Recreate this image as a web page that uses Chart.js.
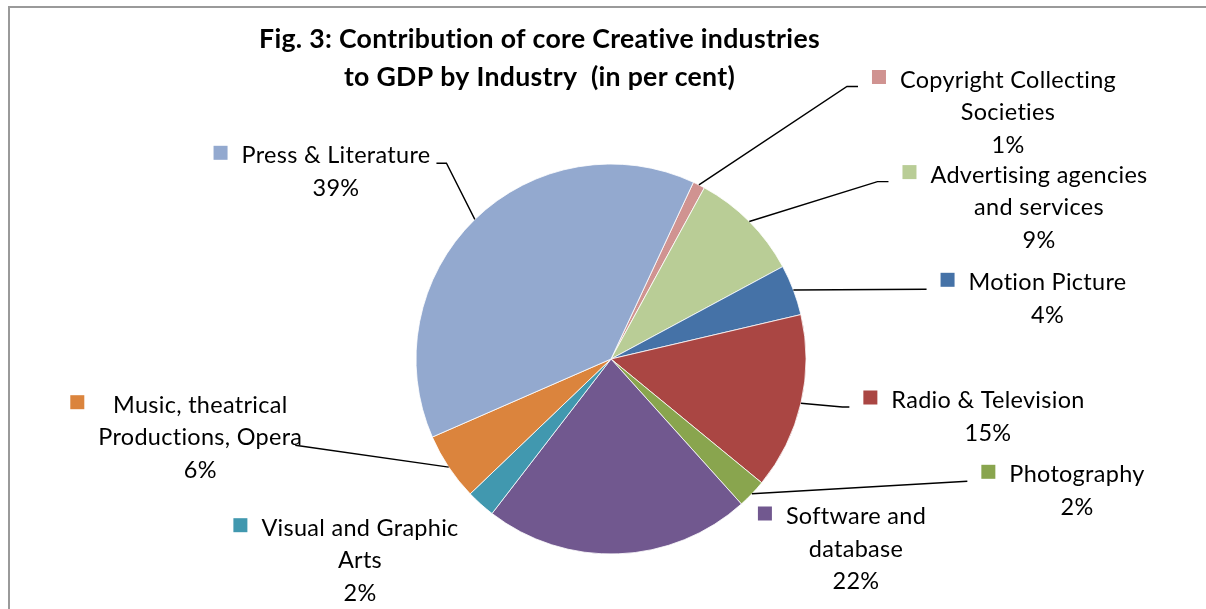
<!DOCTYPE html>
<html><head><meta charset="utf-8">
<script src="https://cdn.jsdelivr.net/npm/chart.js@4.4.1/dist/chart.umd.min.js"></script>
<style>html,body{margin:0;padding:0;background:#fff;}#wrap{width:1206px;height:609px;position:relative;}</style>
</head><body><div id="wrap"><canvas id="c" width="1206" height="609"></canvas></div>
<script>
// ---- data ----
const categories = [
  'Copyright Collecting\nSocieties',
  'Advertising agencies\nand services',
  'Motion Picture',
  'Radio & Television',
  'Photography',
  'Software and\ndatabase',
  'Visual and Graphic\nArts',
  'Music, theatrical\nProductions, Opera',
  'Press & Literature'
];
const shares = [1.0, 9.2, 4.2, 14.6, 2.4, 22.1, 2.4, 5.6, 38.5];
const titleLines = ['Fig. 3: Contribution of core Creative industries', 'to GDP by Industry  (in per cent)'];

// ---- styles / layout ----
const sliceColors = ['#D09391', '#B9CD96', '#4572A7', '#AA4643', '#89A54E', '#71588F', '#4198AF', '#DB843D', '#93A9CF'];
const labelLayout = [
  {cx:1008,  y:87.5,  lead:'key', stub:11},
  {cx:1039,  y:182.6, lead:'key', stub:11},
  {cx:1047.5,y:290.3, lead:'key', stub:0},
  {cx:988,   y:408,   lead:'key', stub:7},
  {cx:1077,  y:482.3, lead:'key', stub:0},
  {cx:856,   y:524,   lead:null},
  {cx:360,   y:535.7, lead:null},
  {cx:200.3, y:412.7, lead:'end', line:1, stub:0, inset:-7},
  {cx:336,   y:163.3, lead:'end', line:0, stub:10, inset:6}
];
const FONT = 'Lato';
const lineH = 32.5;

function setFont(ctx, weight, size) {
  ctx.font = weight + ' ' + size.toFixed(2) + 'px ' + FONT;
  try { ctx.textRendering = 'optimizeSpeed'; } catch (e) {}
  try { ctx.letterSpacing = '0.3px'; } catch (e) {}
}
function fitFont(ctx, weight, text, target) {
  let size = 24;
  for (let k = 0; k < 4; k++) {
    setFont(ctx, weight, size);
    size = size * target / ctx.measureText(text).width;
  }
  setFont(ctx, weight, size);
  return size;
}

const labelPlugin = {
  id: 'labels',
  afterDraw(chart) {
    const ctx = chart.ctx;
    ctx.save();
    // border
    ctx.strokeStyle = '#9a9a9a';
    ctx.lineWidth = 2;
    ctx.beginPath();
    ctx.moveTo(9, 609); ctx.lineTo(9, 7); ctx.lineTo(1206, 7);
    ctx.stroke();

    // title
    fitFont(ctx, 'bold', titleLines[0], 561);
    ctx.fillStyle = '#000';
    ctx.textAlign = 'center';
    ctx.textBaseline = 'alphabetic';
    ctx.fillText(titleLines[0], 539.5, 48.2);
    ctx.fillText(titleLines[1], 539.5, 85.7);

    // body font
    fitFont(ctx, 'normal', 'Copyright Collecting', 216);

    const meta = chart.getDatasetMeta(0);
    const total = shares.reduce((a, b) => a + b, 0);
    meta.data.forEach((arc, i) => {
      const L = labelLayout[i];
      const lines = categories[i].split('\n');
      lines.push(Math.round(shares[i] / total * 100) + '%');
      const widths = lines.map(s => ctx.measureText(s).width);
      const maxW = Math.max(...widths);
      // text
      ctx.fillStyle = '#000';
      ctx.textAlign = 'center';
      lines.forEach((s, k) => ctx.fillText(s, L.cx, L.y + k * lineH));
      // key
      const keyLeft = L.cx - maxW / 2 - 28;
      ctx.fillStyle = sliceColors[i];
      ctx.fillRect(keyLeft, L.y - 17.5, 14, 14);
      // leader
      if (L.lead) {
        const p = arc.getProps(['x', 'y', 'startAngle', 'endAngle', 'outerRadius'], true);
        const mid = (p.startAngle + p.endAngle) / 2;
        const ax = p.x + Math.cos(mid) * p.outerRadius;
        const ay = p.y + Math.sin(mid) * p.outerRadius;
        let sx, sy;
        if (L.lead === 'key') {
          sx = keyLeft - 14; sy = L.y - 1;
        } else {
          sx = L.cx + widths[L.line] / 2 + L.inset; sy = L.y + L.line * lineH;
        }
        const dir = Math.sign(ax - sx);
        ctx.strokeStyle = '#000';
        ctx.lineWidth = 1.4;
        ctx.beginPath();
        ctx.moveTo(sx, sy);
        if (L.stub) ctx.lineTo(sx + dir * L.stub, sy);
        ctx.lineTo(ax, ay);
        ctx.stroke();
      }
    });
    ctx.restore();
  }
};

new Chart(document.getElementById('c'), {
  type: 'pie',
  data: {
    labels: categories,
    datasets: [{
      data: shares,
      backgroundColor: sliceColors,
      borderColor: '#ffffff',
      borderWidth: 0.8,
      hoverOffset: 0,
      radius: 195
    }]
  },
  options: {
    responsive: false,
    devicePixelRatio: 1,
    animation: false,
    events: [],
    rotation: 25,
    layout: {padding: {left: 416, top: 164, right: 400, bottom: 55}},
    plugins: {legend: {display: false}, tooltip: {enabled: false}, title: {display: false}}
  },
  plugins: [labelPlugin]
});
</script>
</body></html>
